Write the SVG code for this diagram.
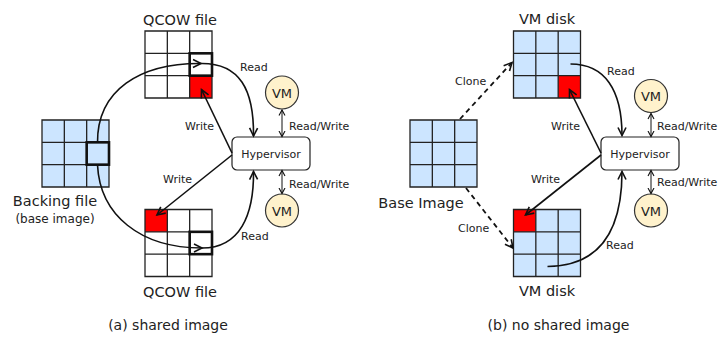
<svg xmlns="http://www.w3.org/2000/svg" width="719" height="337" viewBox="0 0 719 337">
<style>
text{font-family:"DejaVu Sans","Liberation Sans",sans-serif;fill:#222}
.big{font-size:14.5px}
.lbl{font-size:11px}
.cap{font-size:14px}
.gbg{fill:#cce5ff;stroke:none}
.wbg{fill:#fff;stroke:none}
.gl{fill:none;stroke:#222;stroke-width:1.3}
.bold{fill:none;stroke:#111;stroke-width:2.6}
.red{fill:#ff0000;stroke:none}
.hv{fill:#fff;stroke:#222;stroke-width:1.2}
.vm{fill:#fff2cc;stroke:#333;stroke-width:1.2}
.c{fill:none;stroke:#111;stroke-width:1.6}
.cd{fill:none;stroke:#111;stroke-width:1.8;stroke-dasharray:5 4}
.rw{fill:none;stroke:#111;stroke-width:1}
</style>
<defs>
<path id="grid" class="gl" d="M0,0H67V67H0Z M22.33,0V67 M44.67,0V67 M0,22.33H67 M0,44.67H67"/>
<marker id="ah" markerUnits="userSpaceOnUse" markerWidth="12" markerHeight="12" refX="9" refY="5" orient="auto" viewBox="0 0 12 10">
<path d="M1,1 L9,5 L1,9" fill="none" stroke="#111" stroke-width="1.6"/>
</marker>
<marker id="as" markerUnits="userSpaceOnUse" markerWidth="8" markerHeight="8" refX="6" refY="3.5" orient="auto-start-reverse" viewBox="0 0 8 7">
<path d="M0.5,0.5 L6,3.5 L0.5,6.5" fill="none" stroke="#111" stroke-width="1.1"/>
</marker>
</defs>

<!-- (a) shared image -->
<g id="qcow-top">
<rect class="wbg" x="145" y="31" width="67" height="67"/>
<rect class="red" x="189.67" y="75.67" width="22.33" height="22.33"/>
<use href="#grid" x="145" y="31"/>
<rect class="bold" x="189.67" y="53.33" width="22.33" height="22.33"/>
<text class="big" x="180" y="25" text-anchor="middle">QCOW file</text>
</g>
<g id="backing">
<rect class="gbg" x="42" y="120" width="67" height="67"/>
<use href="#grid" x="42" y="120"/>
<rect class="bold" x="86.67" y="142.33" width="22.33" height="22.33"/>
<text class="big" x="55" y="206" text-anchor="middle">Backing file</text>
<text x="55" y="223" text-anchor="middle" font-size="12px">(base image)</text>
</g>
<g id="qcow-bottom">
<rect class="wbg" x="145" y="209.5" width="67" height="67"/>
<rect class="red" x="145" y="209.5" width="22.33" height="22.33"/>
<use href="#grid" x="145" y="209.5"/>
<rect class="bold" x="189.67" y="231.83" width="22.33" height="22.33"/>
<text class="big" x="180" y="297" text-anchor="middle">QCOW file</text>
</g>
<g id="hyper-a">
<rect class="hv" x="232" y="137" width="78" height="33" rx="5"/>
<text class="lbl" x="271" y="158" text-anchor="middle">Hypervisor</text>
</g>
<g id="vm-a1">
<circle class="vm" cx="282" cy="92.5" r="16.5"/>
<text x="282" y="97.5" text-anchor="middle" font-size="13px">VM</text>
</g>
<g id="vm-a2">
<circle class="vm" cx="282" cy="210.5" r="16.5"/>
<text x="282" y="215.5" text-anchor="middle" font-size="13px">VM</text>
</g>

<!-- (b) no shared image -->
<g id="vmdisk-top">
<rect class="gbg" x="513.5" y="31" width="67" height="67"/>
<rect class="red" x="558.17" y="75.67" width="22.33" height="22.33"/>
<use href="#grid" x="513.5" y="31"/>
<text class="big" x="547" y="24" text-anchor="middle">VM disk</text>
</g>
<g id="base-image">
<rect class="gbg" x="410" y="120" width="67" height="67"/>
<use href="#grid" x="410" y="120"/>
<text class="big" x="421" y="208" text-anchor="middle">Base Image</text>
</g>
<g id="vmdisk-bottom">
<rect class="gbg" x="513.5" y="209.5" width="67" height="67"/>
<rect class="red" x="513.5" y="209.5" width="22.33" height="22.33"/>
<use href="#grid" x="513.5" y="209.5"/>
<text class="big" x="547" y="296" text-anchor="middle">VM disk</text>
</g>
<g id="hyper-b">
<rect class="hv" x="601" y="137" width="78" height="33" rx="5"/>
<text class="lbl" x="640" y="158" text-anchor="middle">Hypervisor</text>
</g>
<g id="vm-b1">
<circle class="vm" cx="651" cy="96" r="16.5"/>
<text x="651" y="101" text-anchor="middle" font-size="13px">VM</text>
</g>
<g id="vm-b2">
<circle class="vm" cx="651" cy="210.5" r="16.5"/>
<text x="651" y="215.5" text-anchor="middle" font-size="13px">VM</text>
</g>

<g id="connectors">
<!-- (a) -->
<path class="c" d="M97.5,143 C97,90 140,63 201,63.5" marker-end="url(#ah)"/>
<path class="c" d="M201,63.5 C240,63 254,90 253.5,136" marker-end="url(#ah)"/>
<path class="c" d="M97.5,165 C100,215 140,248 202,248" marker-end="url(#ah)"/>
<path class="c" d="M202,248 C240,248 254,215 253.5,171.5" marker-end="url(#ah)"/>
<path class="c" d="M232,153 L201.5,89.5" marker-end="url(#ah)"/>
<path class="c" d="M232,155 L157,215" marker-end="url(#ah)"/>
<path class="rw" d="M282,110 V136.5" marker-start="url(#as)" marker-end="url(#as)"/>
<path class="rw" d="M282,170.5 V193.5" marker-start="url(#as)" marker-end="url(#as)"/>
<text class="lbl" x="240" y="71">Read</text>
<text class="lbl" x="185" y="130">Write</text>
<text class="lbl" x="163" y="183">Write</text>
<text class="lbl" x="241" y="240">Read</text>
<text class="lbl" x="289" y="130">Read/Write</text>
<text class="lbl" x="289" y="188">Read/Write</text>
<!-- (b) -->
<path class="cd" d="M460,119 L512,62.5" marker-end="url(#ah)"/>
<path class="cd" d="M466,188 L513,248" marker-end="url(#ah)"/>
<path class="c" d="M570.5,64 C605,64 622,90 622,135.5" marker-end="url(#ah)"/>
<path class="c" d="M547.5,266.5 C600,266 622,230 622,171.5" marker-end="url(#ah)"/>
<path class="c" d="M601,153 L569.5,89.5" marker-end="url(#ah)"/>
<path class="c" d="M601,155 L525.5,215" marker-end="url(#ah)"/>
<path class="rw" d="M651,113.5 V136.5" marker-start="url(#as)" marker-end="url(#as)"/>
<path class="rw" d="M651,170.5 V193.5" marker-start="url(#as)" marker-end="url(#as)"/>
<text class="lbl" x="455" y="85" font-size="11.5px">Clone</text>
<text class="lbl" x="458" y="232" font-size="11.5px">Clone</text>
<text class="lbl" x="607" y="75">Read</text>
<text class="lbl" x="551" y="130">Write</text>
<text class="lbl" x="531" y="183">Write</text>
<text class="lbl" x="606" y="249">Read</text>
<text class="lbl" x="657" y="130">Read/Write</text>
<text class="lbl" x="657" y="186">Read/Write</text>
</g>

<text class="cap" x="168" y="330" text-anchor="middle">(a) shared image</text>
<text class="cap" x="558.5" y="330" text-anchor="middle">(b) no shared image</text>
</svg>
